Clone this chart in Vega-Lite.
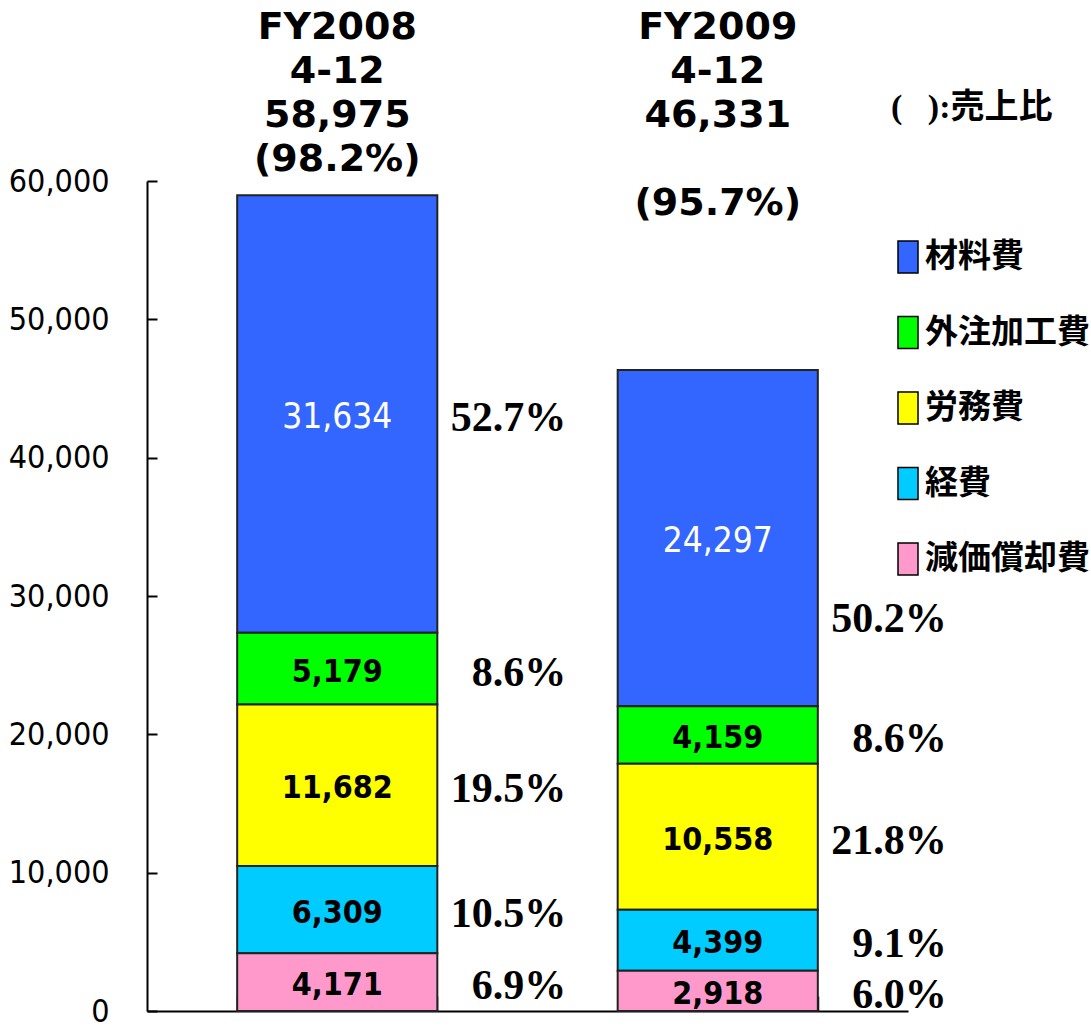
{
  "$schema": "https://vega.github.io/schema/vega-lite/v6.json",
  "width": 761,
  "height": 830,
  "autosize": {"type": "none"},
  "padding": {"left": 147, "top": 181, "right": 183, "bottom": 22},
  "background": "white",
  "config": {"view": {"stroke": null}},
  "data": {
    "values": [
      {"period": "FY2008|4-12|58,975|(98.2%)", "item": "材料費", "value": 31634, "pct": "52.7%", "k": 5},
      {"period": "FY2008|4-12|58,975|(98.2%)", "item": "外注加工費", "value": 5179, "pct": "8.6%", "k": 4},
      {"period": "FY2008|4-12|58,975|(98.2%)", "item": "労務費", "value": 11682, "pct": "19.5%", "k": 3},
      {"period": "FY2008|4-12|58,975|(98.2%)", "item": "経費", "value": 6309, "pct": "10.5%", "k": 2},
      {"period": "FY2008|4-12|58,975|(98.2%)", "item": "減価償却費", "value": 4171, "pct": "6.9%", "k": 1},
      {"period": "FY2009|4-12|46,331|\u200b|(95.7%)", "item": "材料費", "value": 24297, "pct": "50.2%", "k": 5},
      {"period": "FY2009|4-12|46,331|\u200b|(95.7%)", "item": "外注加工費", "value": 4159, "pct": "8.6%", "k": 4},
      {"period": "FY2009|4-12|46,331|\u200b|(95.7%)", "item": "労務費", "value": 10558, "pct": "21.8%", "k": 3},
      {"period": "FY2009|4-12|46,331|\u200b|(95.7%)", "item": "経費", "value": 4399, "pct": "9.1%", "k": 2},
      {"period": "FY2009|4-12|46,331|\u200b|(95.7%)", "item": "減価償却費", "value": 2918, "pct": "6.0%", "k": 1}
    ]
  },
  "resolve": {"axis": {"x": "independent"}},
  "layer": [
    {
      "mark": {"type": "bar", "stroke": "#222222", "strokeWidth": 2},
      "encoding": {
        "x": {
          "field": "period", "type": "nominal", "sort": null,
          "scale": {"paddingInner": 0.474, "paddingOuter": 0.237},
          "axis": {
            "orient": "bottom", "title": null, "labels": false,
            "domain": true, "domainColor": "#000000", "domainWidth": 2,
            "ticks": true, "tickBand": "extent", "tickSize": -15, "tickColor": "#000000", "tickWidth": 1.5
          }
        },
        "y": {
          "field": "value", "type": "quantitative", "stack": "zero",
          "scale": {"domain": [0, 60000], "nice": false},
          "axis": {
            "title": null, "values": [0, 10000, 20000, 30000, 40000, 50000, 60000], "format": ",.0f",
            "grid": false, "domainColor": "#000000", "domainWidth": 2,
            "tickColor": "#000000", "tickWidth": 2, "tickSize": -10,
            "labelFont": "DejaVu Sans Condensed, Liberation Sans", "labelFontSize": 32, "labelColor": "#000000",
            "labelPadding": 48
          }
        },
        "color": {
          "field": "item", "type": "nominal",
          "scale": {
            "domain": ["材料費", "外注加工費", "労務費", "経費", "減価償却費"],
            "range": ["#3366FF", "#00FF00", "#FFFF00", "#00CCFF", "#FF99CC"]
          },
          "legend": {
            "orient": "none", "legendX": 744, "legendY": -90, "padding": 0,
            "title": "(\u00a0\u00a0\u00a0):売上比", "titleFont": "Liberation Serif, Noto Sans CJK JP",
            "titleFontSize": 34, "titleFontWeight": "bold", "titleColor": "#000000", "titlePadding": 115,
            "labelFont": "Noto Sans CJK JP", "labelFontSize": 33, "labelFontWeight": "bold", "labelColor": "#000000",
            "labelOffset": 0, "rowPadding": 37.5, "labelLimit": 300,
            "symbolType": "M-0.625,-1H0.625V1H-0.625Z", "symbolSize": 1024,
            "symbolStrokeColor": "#000000", "symbolStrokeWidth": 1.5, "symbolOpacity": 1
          }
        },
        "order": {"field": "k", "type": "quantitative"}
      }
    },
    {
      "mark": {"type": "text", "font": "DejaVu Sans Condensed, Liberation Sans", "fontSize": 35, "fill": "#FFFFFF", "baseline": "middle", "dy": 3},
      "encoding": {
        "x": {"field": "period", "type": "nominal", "sort": null, "axis": {
          "orient": "top", "title": null, "domain": false, "ticks": false, "labelAngle": 0,
          "labelExpr": "split(datum.value, '|')", "labelBaseline": "top", "labelAlign": "center",
          "labelFont": "DejaVu Sans", "labelFontWeight": "bold", "labelFontSize": 38,
          "labelLineHeight": 44, "labelColor": "#000000", "labelPadding": 173, "labelLimit": 500, "labelOverlap": false
        }},
        "y": {"field": "value", "type": "quantitative", "stack": "zero", "bandPosition": 0.5},
        "detail": {"field": "item"},
        "order": {"field": "k", "type": "quantitative"},
        "opacity": {"condition": {"test": "datum.item === '材料費'", "value": 1}, "value": 0},
        "text": {"field": "value", "type": "quantitative", "format": ","}
      }
    },
    {
      "mark": {"type": "text", "font": "DejaVu Sans Condensed, Liberation Sans", "fontSize": 32, "fontWeight": "bold", "fill": "#000000", "baseline": "middle", "dy": 3},
      "encoding": {
        "x": {"field": "period", "type": "nominal", "sort": null, "axis": null},
        "y": {"field": "value", "type": "quantitative", "stack": "zero", "bandPosition": 0.5},
        "detail": {"field": "item"},
        "order": {"field": "k", "type": "quantitative"},
        "opacity": {"condition": {"test": "datum.item === '材料費'", "value": 0}, "value": 1},
        "text": {"field": "value", "type": "quantitative", "format": ","}
      }
    },
    {
      "mark": {"type": "text", "font": "Liberation Serif", "fontSize": 42, "fontWeight": "bold", "fill": "#000000", "baseline": "middle", "align": "right", "dx": 229, "dy": 4},
      "encoding": {
        "x": {"field": "period", "type": "nominal", "sort": null, "axis": null},
        "y": {"field": "value", "type": "quantitative", "stack": "zero", "bandPosition": 0.5},
        "detail": {"field": "item"},
        "order": {"field": "k", "type": "quantitative"},
        "opacity": {"condition": {"test": "datum.k === 5 && indexof(datum.period, 'FY2009') === 0", "value": 0}, "value": 1},
        "text": {"field": "pct", "type": "nominal"}
      }
    },
    {
      "mark": {"type": "text", "font": "Liberation Serif", "fontSize": 42, "fontWeight": "bold", "fill": "#000000", "baseline": "middle", "align": "right", "dx": 229},
      "encoding": {
        "x": {"field": "period", "type": "nominal", "sort": null, "axis": null},
        "y": {"field": "value", "type": "quantitative", "stack": "zero", "bandPosition": 0.26},
        "detail": {"field": "item"},
        "order": {"field": "k", "type": "quantitative"},
        "opacity": {"condition": {"test": "datum.k === 5 && indexof(datum.period, 'FY2009') === 0", "value": 1}, "value": 0},
        "text": {"field": "pct", "type": "nominal"}
      }
    }
  ]
}
